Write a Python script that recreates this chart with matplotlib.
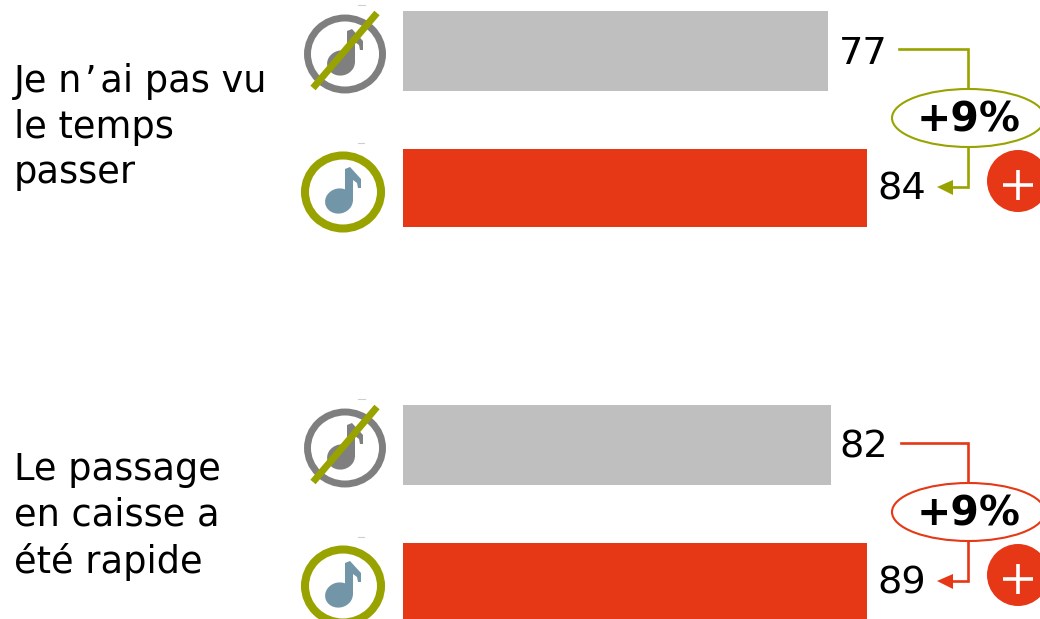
#!/usr/bin/env python3
import matplotlib
matplotlib.use('Agg')
import matplotlib.pyplot as plt
from matplotlib.patches import Circle, Ellipse, Polygon

categories = ['Je n\u200a\u2019\u200aai pas vu\nle temps\npasser', 'Le passage\nen caisse a\n\u00e9t\u00e9 rapide']
no_music = [77, 82]
with_music = [84, 89]
uplift = ['+9%', '+9%']

GREY = '#BFBFBF'
RED = '#E63716'
OLIVE = '#99A300'
RING_GREY = '#7F7F7F'
NOTE_BLUE = '#7295A8'
FS = 27.6
FS_LABEL = 26.5

W, H = 1040, 619
BAR_LEFT = 403
# each group has its own scale in the source (pixels per unit)
scales = [5.525, 5.215]
group_top = [0, 394]
label_y = [127, 516]
line_colors = [OLIVE, RED]


def draw_note(ax, cx, cy, color):
    # cx, cy = centre of the note head
    ax.add_patch(Ellipse((cx, cy), 28, 25, angle=-15, color=color, lw=0, zorder=3))
    stem = [(cx + 6, cy), (cx + 6, cy - 32), (cx + 11, cy - 34), (cx + 22, cy - 22),
            (cx + 22, cy - 13), (cx + 19, cy - 13), (cx + 18, cy - 18), (cx + 14, cy - 21), (cx + 14, cy)]
    ax.add_patch(Polygon(stem, closed=True, color=color, lw=0, zorder=3))


def draw_icons(ax, top):
    # crossed out note
    ax.add_patch(Ellipse((345, top + 54), 75, 72, fill=False, ec=RING_GREY, lw=5.0, zorder=2))
    draw_note(ax, 341, top + 63, RING_GREY)
    ax.plot([313, 377], [top + 88, top + 13], color=OLIVE, lw=5.0, solid_capstyle='butt', zorder=4)
    ax.plot([358, 365], [top + 5, top + 5], color='#C8D0D4', lw=0.8, zorder=2)
    # note
    yc = top + 192
    ax.add_patch(Ellipse((343, yc), 76, 73, fill=False, ec=OLIVE, lw=5.8, zorder=2))
    draw_note(ax, 339, yc + 9, NOTE_BLUE)
    ax.plot([358, 364], [top + 143, top + 143], color='#C8D0D4', lw=0.8, zorder=2)


def draw_connector(ax, top, color, label, y1, x0):
    ax.plot([x0, 968, 968, 950], [top + y1, top + y1, top + 187, top + 187], color=color, lw=1.9,
            solid_joinstyle='miter', zorder=2)
    ax.add_patch(Polygon([(937, top + 187), (953, top + 180), (953, top + 195)], closed=True,
                         color=color, lw=0, zorder=3))
    ax.add_patch(Ellipse((968.5, top + 118), 153, 58, fc='white', ec=color, lw=1.5, zorder=4))
    ax.text(968.5, top + 121, label, ha='center', va='center', fontsize=29.5, fontweight='bold', zorder=5)
    ax.add_patch(Circle((1018, top + 181), 31, color=RED, lw=0, zorder=3))
    ax.plot([1003, 1033], [top + 185, top + 185], color='white', lw=2.6, zorder=4, solid_capstyle='butt')
    ax.plot([1018, 1018], [top + 170, top + 200], color='white', lw=2.6, zorder=4, solid_capstyle='butt')


fig = plt.figure(figsize=(W / 100, H / 100), dpi=100)

# overlay in pixel coordinates for the icons and connectors
over = fig.add_axes([0, 0, 1, 1], zorder=2)
over.set_xlim(0, W)
over.set_ylim(H, 0)
over.axis('off')
over.patch.set_alpha(0)

for i in range(2):
    top = group_top[i]
    ax = fig.add_axes([BAR_LEFT / W, 0, 1 - BAR_LEFT / W, 1], zorder=1)
    ax.set_xlim(0, (W - BAR_LEFT) / scales[i])
    ax.set_ylim(H, 0)
    ax.axis('off')
    ax.barh([top + 51, top + 188], [no_music[i], with_music[i]], height=[80, 78],
            color=[GREY, RED], lw=0)
    gap = 10 if i == 0 else 9
    ax.annotate(str(no_music[i]), (no_music[i], top + 54), xytext=(gap, 0), textcoords='offset pixels',
                ha='left', va='center', fontsize=FS, color='black')
    ax.annotate(str(with_music[i]), (with_music[i], top + 189), xytext=(10, 0), textcoords='offset pixels',
                ha='left', va='center', fontsize=FS, color='black')

    over.text(14, label_y[i], categories[i], ha='left', va='center', fontsize=FS_LABEL,
              linespacing=1.3, color='black')
    draw_icons(over, top)
    draw_connector(over, top, line_colors[i], uplift[i], 49, 899 + 2 * i)

fig.savefig('out.png', dpi=100)
